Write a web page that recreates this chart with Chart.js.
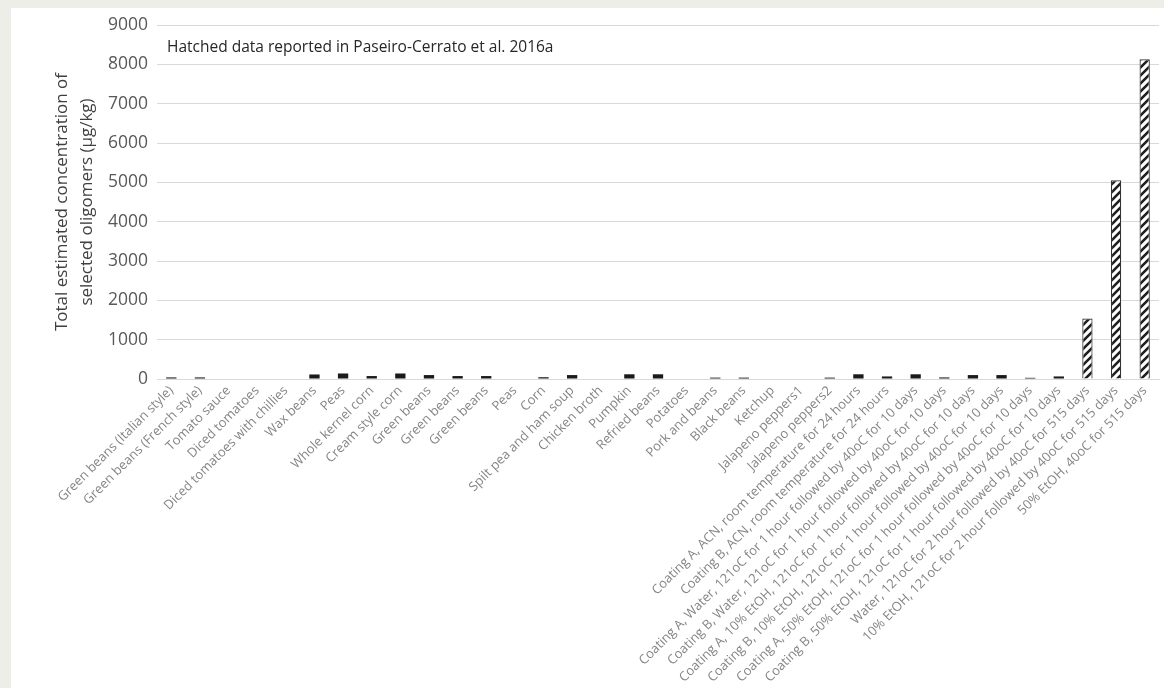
<!DOCTYPE html>
<html>
<head>
<meta charset="utf-8">
<script src="https://cdn.jsdelivr.net/npm/chart.js@4.4.1/dist/chart.umd.min.js"></script>
<style>
  html, body { margin: 0; padding: 0; background: #eeeee8; }
  #wrap { position: absolute; left: 0; top: 0; width: 1164px; height: 688px; }
  #panel { position: absolute; left: 11px; top: 8px; width: 1153px; height: 680px; background: #ffffff; }
  canvas { position: absolute; left: 0; top: 0; }
</style>
</head>
<body>
<div id="wrap">
  <div id="panel"></div>
  <canvas id="c" width="1164" height="688"></canvas>
</div>
<script>
const categories = [
  "Green beans (Italian style)",
  "Green beans (French style)",
  "Tomato sauce",
  "Diced tomatoes",
  "Diced tomatoes with chillies",
  "Wax beans",
  "Peas",
  "Whole kernel corn",
  "Cream style corn",
  "Green beans",
  "Green beans",
  "Green beans",
  "Peas",
  "Corn",
  "Spilt pea and ham soup",
  "Chicken broth",
  "Pumpkin",
  "Refried beans",
  "Potatoes",
  "Pork and beans",
  "Black beans",
  "Ketchup",
  "Jalapeno peppers1",
  "Jalapeno peppers2",
  "Coating A, ACN, room temperature for 24 hours",
  "Coating B, ACN, room temperature for 24 hours",
  "Coating A, Water, 121oC for 1 hour followed by 40oC for 10 days",
  "Coating B, Water, 121oC for 1 hour followed by 40oC for 10 days",
  "Coating A, 10% EtOH, 121oC for 1 hour followed by 40oC for 10 days",
  "Coating B, 10% EtOH, 121oC for 1 hour followed by 40oC for 10 days",
  "Coating A, 50% EtOH, 121oC for 1 hour followed by 40oC for 10 days",
  "Coating B, 50% EtOH, 121oC for 1 hour followed by 40oC for 10 days",
  "Water, 121oC for 2 hour followed by 40oC for 515 days",
  "10% EtOH, 121oC for 2 hour followed by 40oC for 515 days",
  "50% EtOH, 40oC for 515 days"
];

const concentrations = [
  40, 40, 0, 0, 0, 115, 140, 75, 140, 100,
  75, 75, 0, 45, 100, 0, 120, 120, 0, 35,
  35, 0, 0, 35, 120, 65, 120, 40, 100, 100,
  30, 65, 1540, 5050, 8130
];

// 1 = hatched (data reported in Paseiro-Cerrato et al. 2016a)
const hatched = [
  0, 0, 0, 0, 0, 0, 0, 0, 0, 0,
  0, 0, 0, 0, 0, 0, 0, 0, 0, 0,
  0, 0, 0, 0, 0, 0, 0, 0, 0, 0,
  0, 0, 1, 1, 1
];

const yTicks = [0, 1000, 2000, 3000, 4000, 5000, 6000, 7000, 8000, 9000];
const yTitle = ["Total estimated concentration of", "selected oligomers (\u00b5g/kg)"];
const noteText = "Hatched data reported in Paseiro-Cerrato et al. 2016a";

const FONT = "'Open Sans', 'Liberation Sans', sans-serif";

function makeHatch() {
  const c = document.createElement('canvas');
  c.width = 8; c.height = 8;
  const g = c.getContext('2d');
  g.fillStyle = '#ffffff';
  g.fillRect(0, 0, 8, 8);
  g.strokeStyle = '#1e1e1e';
  g.lineWidth = 2.6;
  g.beginPath();
  g.moveTo(-2, 10); g.lineTo(10, -2);
  g.moveTo(-6, 6); g.lineTo(6, -6);
  g.moveTo(2, 14); g.lineTo(14, 2);
  g.stroke();
  return g.createPattern(c, 'repeat');
}
const hatch = makeHatch();

const notePlugin = {
  id: 'note',
  afterDraw(chart) {
    const ctx = chart.ctx;
    ctx.save();
    ctx.font = "15.5px " + FONT;
    ctx.fillStyle = '#262626';
    ctx.textAlign = 'left';
    ctx.textBaseline = 'middle';
    ctx.fillText(noteText, 167, 48);
    ctx.restore();
  }
};

new Chart(document.getElementById('c'), {
  type: 'bar',
  data: {
    labels: categories,
    datasets: [{
      data: concentrations,
      backgroundColor: hatched.map(h => h ? hatch : '#1a1a1a'),
      borderColor: hatched.map(h => h ? '#333333' : '#1a1a1a'),
      borderWidth: hatched.map(h => h ? 1.2 : 0),
      barPercentage: 0.36,
      categoryPercentage: 1.0
    }]
  },
  options: {
    responsive: false,
    animation: false,
    devicePixelRatio: 1,
    layout: { padding: { left: 11, top: 25, right: 5, bottom: 0 } },
    plugins: {
      legend: { display: false },
      tooltip: { enabled: false }
    },
    scales: {
      x: {
        grid: { display: false, drawTicks: false },
        border: { display: true, color: '#d9d9d9', width: 1 },
        ticks: {
          autoSkip: false,
          maxRotation: 45,
          minRotation: 45,
          padding: 4,
          color: '#858585',
          font: { family: FONT, size: 13 }
        },
        afterFit(scale) { scale.height = 309; }
      },
      y: {
        min: 0,
        max: 9000,
        afterBuildTicks(scale) { scale.ticks = yTicks.map(v => ({ value: v })); },
        grid: { color: '#d9d9d9', lineWidth: 1, drawTicks: false },
        border: { display: false },
        ticks: {
          padding: 9,
          color: '#595959',
          font: { family: FONT, size: 17.5 },
          callback: (v) => String(v)
        },
        title: {
          display: true,
          text: yTitle,
          color: '#404040',
          font: { family: FONT, size: 17, lineHeight: 1.5 },
          padding: { top: 38, bottom: 0 }
        },
        afterFit(scale) { scale.width = 146; }
      }
    }
  },
  plugins: [notePlugin]
});
</script>
</body>
</html>
